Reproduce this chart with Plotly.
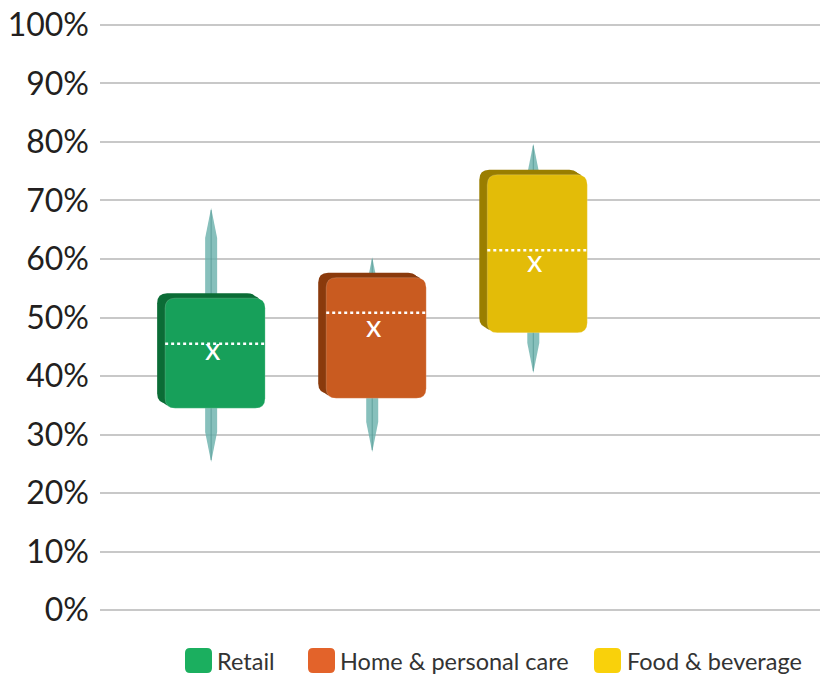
import plotly.graph_objects as go

# Box-and-whisker summaries (percent)
categories = ["Retail", "Home & personal care", "Food & beverage"]
upper_fence = [68.7, 60.3, 79.7]
q3 = [53.3, 56.8, 74.4]
median = [45.5, 50.8, 61.5]
mean = [44.3, 48.2, 59.3]
q1 = [34.5, 36.2, 47.4]
lower_fence = [25.3, 27.0, 40.5]

tick_vals = [0, 10, 20, 30, 40, 50, 60, 70, 80, 90, 100]
tick_text = ["0%", "10%", "20%", "30%", "40%", "50%", "60%", "70%", "80%", "90%", "100%"]

face_colors = ["#17A05A", "#C95B20", "#E3BC08"]
side_colors = ["#0B6C36", "#8A3A0C", "#9A7E00"]
legend_colors = ["#1BAF5F", "#E3632A", "#F9D10B"]
whisker_fill = "rgba(108,178,173,0.82)"
whisker_core = "rgba(70,140,136,0.6)"

W, H = 820, 675
M_L, M_R, M_T, M_B = 100, 0, 22, 62
X_RANGE = [-0.69, 3.78]
Y_RANGE = [-0.5, 100.5]
plot_w = W - M_L - M_R
plot_h = H - M_T - M_B
px_x = (X_RANGE[1] - X_RANGE[0]) / plot_w   # x units per pixel
px_y = (Y_RANGE[1] - Y_RANGE[0]) / plot_h   # y units per pixel


def rounded_rect(x0, x1, y0, y1, rx, ry):
    return (f"M{x0 + rx},{y1} L{x1 - rx},{y1} Q{x1},{y1} {x1},{y1 - ry} "
            f"L{x1},{y0 + ry} Q{x1},{y0} {x1 - rx},{y0} "
            f"L{x0 + rx},{y0} Q{x0},{y0} {x0},{y0 + ry} "
            f"L{x0},{y1 - ry} Q{x0},{y1} {x0 + rx},{y1} Z")


fig = go.Figure()
shapes = []
annotations = []

for i, name in enumerate(categories):
    c = i
    # spindle-shaped whisker running behind the box
    hw = 6 * px_x
    taper = 30 * px_y
    top, bot = upper_fence[i], lower_fence[i]
    path = (f"M{c},{top} L{c + hw},{top - taper} L{c + hw},{bot + taper} "
            f"L{c},{bot} L{c - hw},{bot + taper} L{c - hw},{top - taper} Z")
    shapes.append(dict(type="path", path=path, xref="x", yref="y",
                       fillcolor=whisker_fill, line=dict(width=0), layer="above"))
    shapes.append(dict(type="line", x0=c, x1=c, y0=bot + 2 * px_y, y1=top - 2 * px_y,
                       xref="x", yref="y", line=dict(color=whisker_core, width=1),
                       layer="above"))

    # box face and its extruded back face
    fx0, fx1 = c - 46 * px_x, c + 54 * px_x
    rx, ry = 10 * px_x, 10 * px_y
    dx, dy = -8 * px_x, 5 * px_y
    shapes.append(dict(type="path",
                       path=rounded_rect(fx0 + dx, fx1 + dx, q1[i] + dy, q3[i] + dy, rx, ry),
                       xref="x", yref="y", fillcolor=side_colors[i],
                       line=dict(width=0), layer="above"))
    shapes.append(dict(type="path",
                       path=rounded_rect(fx0 + dx * 0.5, fx1 + dx * 0.5, q1[i] + dy * 0.5,
                                         q3[i] + dy * 0.5, rx, ry),
                       xref="x", yref="y", fillcolor=side_colors[i],
                       line=dict(width=0), layer="above"))
    shapes.append(dict(type="path",
                       path=rounded_rect(fx0, fx1, q1[i], q3[i], rx, ry),
                       xref="x", yref="y", fillcolor=face_colors[i],
                       line=dict(color="rgba(255,255,255,0.18)", width=1), layer="above"))

    # median line
    shapes.append(dict(type="line", x0=fx0, x1=fx1, y0=median[i], y1=median[i],
                       xref="x", yref="y",
                       line=dict(color="white", width=2.5, dash="dot"), layer="above"))

    # mean marker
    annotations.append(dict(x=c + 2 * px_x, y=mean[i], xref="x", yref="y", text="x",
                            showarrow=False, xanchor="center", yanchor="middle", yshift=3,
                            font=dict(family="Lato", size=31, color="white")))

# legend row
legend_icon_x = [185, 308, 594]
legend_text_x = [215, 338, 625]
icon_w, icon_h = 27, 25
icon_cy = 660.5


def to_paper_x(px):
    return (px - M_L) / plot_w


def to_paper_y(py):
    return (H - M_B - py) / plot_h


for i, name in enumerate(categories):
    x0 = to_paper_x(legend_icon_x[i])
    x1 = to_paper_x(legend_icon_x[i] + icon_w)
    y0 = to_paper_y(icon_cy + icon_h / 2)
    y1 = to_paper_y(icon_cy - icon_h / 2)
    shapes.append(dict(type="path", xref="paper", yref="paper",
                       path=rounded_rect(x0, x1, y0, y1, 5 / plot_w, 5 / plot_h),
                       fillcolor=legend_colors[i], line=dict(width=0)))
    annotations.append(dict(x=to_paper_x(legend_text_x[i]), y=to_paper_y(icon_cy),
                            xref="paper", yref="paper", text=name, showarrow=False,
                            xanchor="left", yanchor="middle",
                            font=dict(family="Lato", size=23.5, color="#333333")))

fig.update_layout(
    width=W, height=H,
    margin=dict(l=M_L, r=M_R, t=M_T, b=M_B),
    paper_bgcolor="white", plot_bgcolor="white",
    showlegend=False,
    shapes=shapes, annotations=annotations,
    xaxis=dict(range=X_RANGE, showgrid=False, zeroline=False, showticklabels=False,
               showline=False, fixedrange=True),
    yaxis=dict(range=Y_RANGE, tickvals=tick_vals, ticktext=tick_text,
               showgrid=True, gridcolor="#C8C8C8", gridwidth=1.5,
               zeroline=False, showline=False, ticks="", ticklabelstandoff=10,
               tickfont=dict(family="Lato", size=32, color="#231F20")),
)

fig.write_html("out.html")
